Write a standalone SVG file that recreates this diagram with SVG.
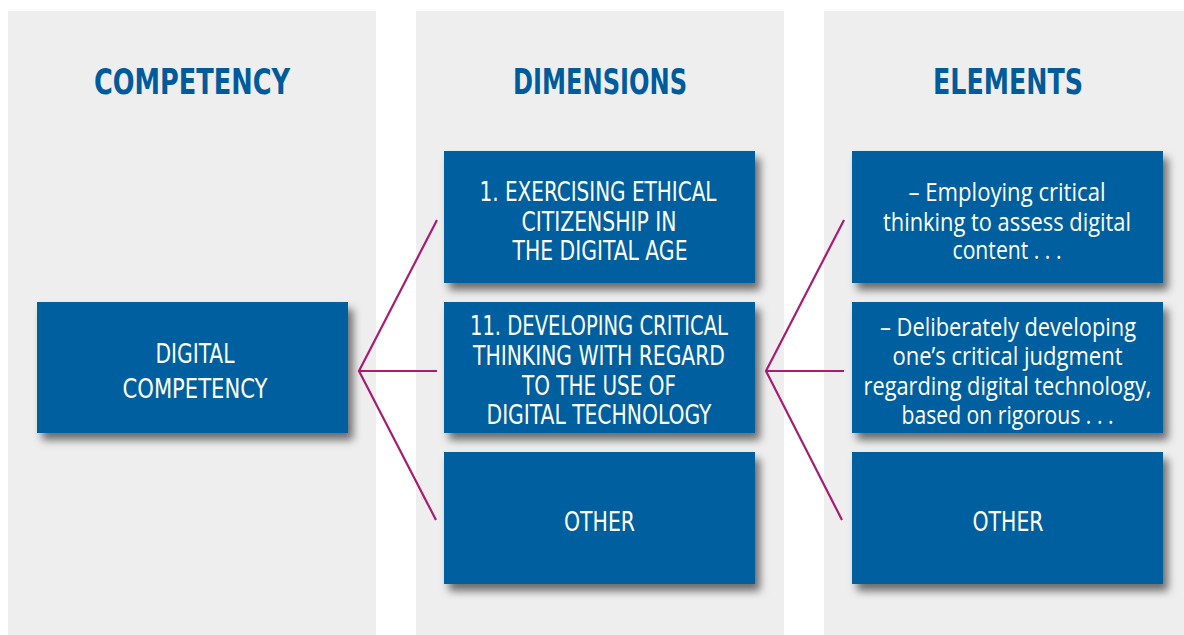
<svg xmlns="http://www.w3.org/2000/svg" width="1184" height="635" viewBox="0 0 1184 635">
<defs>
<filter id="sh" x="-10%" y="-10%" width="130%" height="140%">
<feDropShadow dx="5" dy="7" stdDeviation="4" flood-color="#000" flood-opacity="0.55"/>
</filter>
<style>
.panel{fill:#eeeeee}
.box{fill:#015e9e;filter:url(#sh)}
.hdr{font-family:"DejaVu Sans Condensed","DejaVu Sans",sans-serif;font-weight:bold;font-size:35px;fill:#005b9c;text-anchor:middle}
.cap{font-family:"DejaVu Sans Condensed","DejaVu Sans",sans-serif;font-size:26px;fill:#ffffff;text-anchor:middle}
.low{font-family:"Open Sans","Noto Sans",sans-serif;font-size:25px;fill:#ffffff;text-anchor:middle}
.con{stroke:#a81c72;stroke-width:2.2;fill:none}
</style>
</defs>
<rect width="1184" height="635" fill="#ffffff"/>
<g id="panels">
<rect class="panel" x="8" y="11" width="368" height="624"/>
<rect class="panel" x="416" y="11" width="368" height="624"/>
<rect class="panel" x="824" y="11" width="360" height="624"/>
</g>
<g id="headers">
<text class="hdr" x="192" y="94" textLength="196" lengthAdjust="spacingAndGlyphs">COMPETENCY</text>
<text class="hdr" x="600" y="94" textLength="174" lengthAdjust="spacingAndGlyphs">DIMENSIONS</text>
<text class="hdr" x="1008" y="94" textLength="150" lengthAdjust="spacingAndGlyphs">ELEMENTS</text>
</g>
<g id="connectors">
<polyline class="con" points="437,220 359,371 436,520"/>
<line class="con" x1="359" y1="371" x2="437" y2="371"/>
<polyline class="con" points="844,220 766,371 842,520"/>
<line class="con" x1="766" y1="371" x2="844" y2="371"/>
</g>
<g id="competency">
<rect class="box" x="37" y="302" width="311" height="131"/>
<text class="cap" x="195" y="363" textLength="79" lengthAdjust="spacingAndGlyphs">DIGITAL</text>
<text class="cap" x="195" y="398" textLength="145" lengthAdjust="spacingAndGlyphs">COMPETENCY</text>
</g>
<g id="dim1">
<rect class="box" x="444" y="151" width="311" height="132"/>
<text class="cap" x="598" y="201" textLength="237" lengthAdjust="spacingAndGlyphs">1. EXERCISING ETHICAL</text>
<text class="cap" x="599" y="230.5" textLength="155" lengthAdjust="spacingAndGlyphs">CITIZENSHIP IN</text>
<text class="cap" x="600" y="260" textLength="175" lengthAdjust="spacingAndGlyphs">THE DIGITAL AGE</text>
</g>
<g id="dim2">
<rect class="box" x="444" y="302" width="311" height="131"/>
<text class="cap" x="599" y="335" textLength="258" lengthAdjust="spacingAndGlyphs">11. DEVELOPING CRITICAL</text>
<text class="cap" x="599" y="365" textLength="252" lengthAdjust="spacingAndGlyphs">THINKING WITH REGARD</text>
<text class="cap" x="599" y="395" textLength="154" lengthAdjust="spacingAndGlyphs">TO THE USE OF</text>
<text class="cap" x="599" y="424" textLength="225" lengthAdjust="spacingAndGlyphs">DIGITAL TECHNOLOGY</text>
</g>
<g id="dim3">
<rect class="box" x="444" y="452" width="311" height="132"/>
<text class="cap" x="599.5" y="531" textLength="71" lengthAdjust="spacingAndGlyphs">OTHER</text>
</g>
<g id="el1">
<rect class="box" x="852" y="151" width="311" height="132"/>
<text class="low" x="1007" y="201" textLength="197" lengthAdjust="spacingAndGlyphs">– Employing critical</text>
<text class="low" x="1007" y="230.5" textLength="248" lengthAdjust="spacingAndGlyphs">thinking to assess digital</text>
<text class="low" x="1007" y="259" textLength="109" lengthAdjust="spacingAndGlyphs">content . . .</text>
</g>
<g id="el2">
<rect class="box" x="852" y="302" width="311" height="131"/>
<text class="low" x="1008" y="335.5" textLength="256" lengthAdjust="spacingAndGlyphs">– Deliberately developing</text>
<text class="low" x="1007.5" y="365" textLength="230" lengthAdjust="spacingAndGlyphs">one’s critical judgment</text>
<text class="low" x="1007.5" y="395" textLength="288" lengthAdjust="spacingAndGlyphs">regarding digital technology,</text>
<text class="low" x="1007.5" y="424" textLength="212" lengthAdjust="spacingAndGlyphs">based on rigorous . . .</text>
</g>
<g id="el3">
<rect class="box" x="852" y="452" width="311" height="132"/>
<text class="cap" x="1008" y="531" textLength="71" lengthAdjust="spacingAndGlyphs">OTHER</text>
</g>
</svg>
